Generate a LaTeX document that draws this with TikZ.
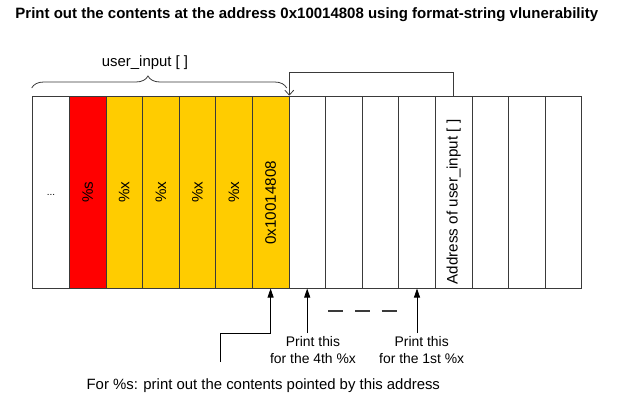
\documentclass[tikz,border=0pt]{standalone}
\usepackage{fontspec}
\setmainfont{Liberation Sans}
\usetikzlibrary{arrows.meta,decorations.pathreplacing}
\definecolor{memred}{HTML}{FF0000}
\definecolor{memyellow}{HTML}{FFCC00}
\definecolor{memline}{HTML}{3A3A3A}

\begin{document}
\begin{tikzpicture}[x=1pt,y=-1pt,
    cell/.style={draw=memline,line width=0.8pt,minimum width=36.6pt,minimum height=192pt,inner sep=0pt,anchor=north west},
    celltext/.style={rotate=90,font=\fontsize{15.2}{17}\selectfont},
    txt/.style={font=\fontsize{14.9}{17}\selectfont,align=center},
    tip/.style={draw=black,line width=0.8pt,-{Triangle[length=9pt,width=6pt]}}]
  \useasboundingbox (0,0) rectangle (630,410);

  \node[font=\fontsize{15}{17}\selectfont\bfseries] (title) at (306.8,15)
    {Print out the contents at the address 0x10014808 using format-string vlunerability};

  % stack cells
  \foreach \f [count=\i] in {white,memred,memyellow,memyellow,memyellow,memyellow,memyellow,
                             white,white,white,white,white,white,white,white}
    \node[cell,fill=\f] (c\i) at ({32.3+36.6*(\i-1)},95.7) {};

  \node[font=\fontsize{10}{12}\selectfont] (dots) at ([yshift=-3pt]c1.center) {...};
  \node[celltext] (fmts) at (c2.center) {\%s};
  \foreach \i in {3,...,6}
    \node[celltext] (fmtx\i) at (c\i.center) {\%x};
  \node[celltext] (target) at ([yshift=-10.8pt]c7.center) {0x10014808};
  \node[celltext] (uaddr) at ([yshift=-9.8pt]c12.center) {Address of user\_input [ ]};

  % user_input brace
  \coordinate (ubl) at (31.7,88);
  \coordinate (ubr) at (286.7,88);
  \draw[memline,line width=0.8pt,decorate,decoration={brace,amplitude=12pt,aspect=0.456}] (ubl) -- (ubr);
  \node[txt] (uin) at (145,63) {user\_input [ ]};

  % pointer back to the buffer
  \draw[memline,line width=0.8pt,-{Straight Barb[length=5pt,width=9pt]}] (c12.north) -- ++(0,-23) -| (c7.north east);

  % arrows from below
  \coordinate (src) at (220.7,362);
  \draw[tip] (src) |- ([yshift=-44.6pt]c7.south) -- (c7.south);

  \node[txt,font=\fontsize{13.9}{16.5}\selectfont] (p4) at (313,350) {Print this\\for the 4th \%x};
  \node[txt,font=\fontsize{13.9}{16.5}\selectfont] (p1) at (421.7,350) {Print this\\for the 1st \%x};
  \draw[tip] (c8.south |- p4.north) -- (c8.south);
  \draw[tip] (c11.south |- p1.north) -- (c11.south);

  \draw[memline,line width=1.2pt,dash pattern=on 15pt off 11.7pt] (328.3,311) -- (396.7,311);

  \node[txt] (note) at (263.3,386) {For \%s: print out the contents pointed by this address};
\end{tikzpicture}
\end{document}
